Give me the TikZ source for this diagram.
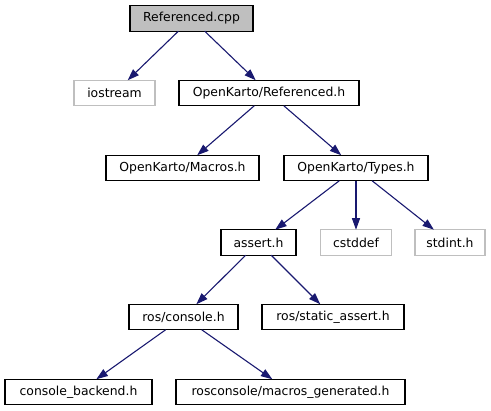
\documentclass[tikz,border=0pt]{standalone}
\usepackage{fontspec}
\setmainfont{DejaVu Sans}
\usetikzlibrary{arrows.meta}
\definecolor{edgeblue}{HTML}{191970}
\definecolor{greyline}{HTML}{BFBFBF}
\tikzset{
  filebox/.style={draw=black, fill=white, line width=1.1pt, inner sep=0pt, outer sep=0pt,
    minimum height=25.5pt, font=\fontsize{12.4}{14}\selectfont},
  extbox/.style={filebox, draw=greyline},
  rootbox/.style={filebox, fill=greyline},
  dep/.style={draw=edgeblue, line width=1.1pt, -{Triangle[length=11.5pt,width=8pt]}, edgeblue},
}
\begin{document}
\begin{tikzpicture}[x=1pt,y=-1pt]
\useasboundingbox (0,0) rectangle (491,411);
\node[rootbox, minimum width=123pt] (cpp) at (191.5,18.5) {Referenced.cpp};
\node[extbox, minimum width=81pt] (ios) at (114.5,93) {iostream};
\node[filebox, minimum width=180pt] (ref) at (269,93) {OpenKarto/Referenced.h};
\node[filebox, minimum width=153pt] (mac) at (182.5,168) {OpenKarto/Macros.h};
\node[filebox, minimum width=144pt] (typ) at (356,168) {OpenKarto/Types.h};
\node[filebox, minimum width=75pt] (ass) at (258.5,242.5) {assert.h};
\node[extbox, minimum width=71pt] (cst) at (356,242.5) {cstddef};
\node[extbox, minimum width=70pt] (sti) at (450,242.5) {stdint.h};
\node[filebox, minimum width=109pt] (con) at (183.5,317) {ros/console.h};
\node[filebox, minimum width=142pt] (sta) at (333,317) {ros/static\_assert.h};
\node[filebox, minimum width=147pt] (bak) at (78.5,392) {console\_backend.h};
\node[filebox, minimum width=229pt] (gen) at (290.5,392) {rosconsole/macros\_generated.h};
\draw[dep] (cpp) -- (ios);
\draw[dep] (cpp) -- (ref);
\draw[dep] (ref) -- (mac);
\draw[dep] (ref) -- (typ);
\draw[dep] (typ) -- (ass);
\draw[dep] (typ) -- (cst);
\draw[dep] (typ) -- (sti);
\draw[dep] (ass) -- (con);
\draw[dep] (ass) -- (sta);
\draw[dep] (con) -- (bak);
\draw[dep] (con) -- (gen);
\end{tikzpicture}
\end{document}
